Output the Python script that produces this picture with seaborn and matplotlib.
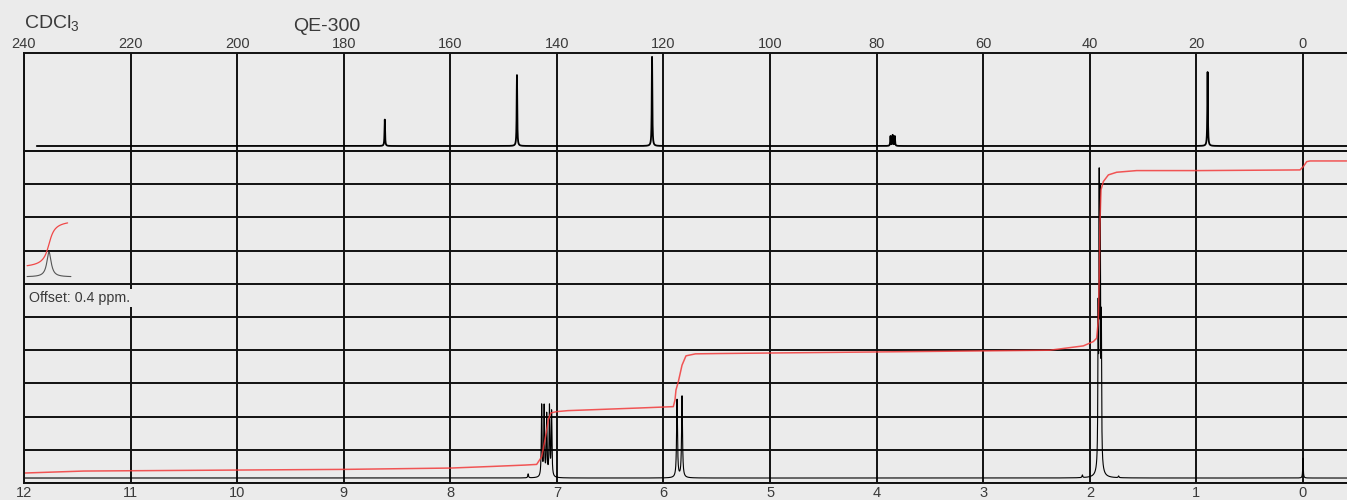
import numpy as np
import pandas as pd
import seaborn as sns
import matplotlib.pyplot as plt

W, H = 1347, 500
BG = '#ebebeb'
INK = '#3a3a3a'

# 1H peaks: position (ppm), height (grid units), half width (ppm)
h1_ppm = [7.27, 7.143, 7.12, 7.096, 7.07, 7.05, 5.873, 5.826,
          2.07, 1.922, 1.912, 1.902, 1.892, 1.905, 1.73, 0.0]
h1_height = [0.12, 2.15, 2.1, 1.85, 2.1, 1.95, 2.35, 2.45,
             0.08, 4.3, 7.9, 7.3, 4.0, 0.45, 0.05, 0.6]
h1_width = [0.004, 0.004, 0.004, 0.004, 0.004, 0.004, 0.005, 0.005,
            0.004, 0.003, 0.003, 0.003, 0.003, 0.02, 0.004, 0.003]
h1_base = 0.15

# 1H integral curve (ppm, grid units)
int_ppm = [12.0, 11.44, 10.0, 9.0, 8.0, 7.6, 7.3, 7.19, 7.143, 7.112, 7.096,
           7.081, 7.058, 7.002, 6.896, 6.22, 5.908, 5.892, 5.883, 5.861,
           5.826, 5.789, 5.70, 5.47, 2.374, 2.061, 1.967, 1.936, 1.920,
           1.911, 1.905, 1.895, 1.873, 1.826, 1.748, 1.560, 0.966, 0.028,
           -0.003, -0.035, -0.066, -0.41]
int_val = [0.30, 0.36, 0.39, 0.41, 0.45, 0.50, 0.54, 0.56, 0.79, 1.30, 1.60,
           1.90, 2.11, 2.15, 2.18, 2.26, 2.30, 2.50, 2.80, 3.05,
           3.55, 3.83, 3.89, 3.90, 4.00, 4.13, 4.26, 4.36, 4.91,
           6.32, 7.82, 8.83, 9.08, 9.28, 9.36, 9.41, 9.41, 9.43,
           9.53, 9.68, 9.70, 9.70]

# 13C peaks: position (ppm), height (fraction of top panel)
c13_ppm = [172.3, 147.5, 122.15, 77.4, 77.0, 76.6, 17.9]
c13_height = [0.27, 0.725, 0.91, 0.10, 0.11, 0.10, 0.755]
c13_base = 0.051

h1_ticks = list(range(12, -1, -1))
c13_ticks = list(range(240, -1, -20))


def spectrum(x, pos, hgt, wid, base):
    y = np.full_like(x, base)
    for p, h, w in zip(pos, hgt, wid):
        y += h * w ** 2 / ((x - p) ** 2 + w ** 2)
    return y


x_h = np.linspace(12.0, -0.413, 30000)
df_h = pd.DataFrame({'ppm': x_h, 'y': spectrum(x_h, h1_ppm, h1_height, h1_width, h1_base)})
df_int = pd.DataFrame({'ppm': int_ppm, 'y': int_val})
x_c = np.linspace(237.6, -8.26, 30000)
df_c = pd.DataFrame({'ppm': x_c,
                     'y': spectrum(x_c, c13_ppm, c13_height, [0.06] * len(c13_ppm), c13_base)})

sns.set_theme(style='white')
plt.rcParams['font.family'] = ['Liberation Sans', 'DejaVu Sans']
plt.rcParams['mathtext.fontset'] = 'custom'
plt.rcParams['mathtext.rm'] = 'Liberation Sans'

fig = plt.figure(figsize=(W / 100, H / 100), dpi=100, facecolor=BG)
ax_c = fig.add_axes([24 / W, 349 / H, 1323 / W, 98 / H], facecolor=BG)
ax_h = fig.add_axes([24 / W, 17 / H, 1323 / W, 332 / H], facecolor=BG)

# 13C panel
sns.lineplot(data=df_c, x='ppm', y='y', ax=ax_c, color='black', lw=1.3,
             sort=False, estimator=None)
ax_c.set_xlim(240, -8.26)
ax_c.set_ylim(0, 1)
ax_c.xaxis.tick_top()
ax_c.set_xticks(c13_ticks)
ax_c.set_xticklabels([str(t) for t in c13_ticks])
ax_c.set_yticks([])
ax_c.grid(True, axis='x', color='#111111', lw=1.4)

# 1H panel
sns.lineplot(data=df_h, x='ppm', y='y', ax=ax_h, color='black', lw=0.8,
             sort=False, estimator=None)
sns.lineplot(data=df_int, x='ppm', y='y', ax=ax_h, color='#f23a3a', lw=1.1,
             alpha=0.85, sort=False, estimator=None)
ax_h.set_xlim(12, -0.413)
ax_h.set_ylim(0, 10)
ax_h.set_xticks(h1_ticks)
ax_h.set_xticklabels([str(t) for t in h1_ticks])
ax_h.set_yticks(range(0, 11))
ax_h.tick_params(axis='y', labelleft=False, length=0)
ax_h.grid(True, color='#111111', lw=1.4)

for ax in (ax_c, ax_h):
    ax.set_xlabel('')
    ax.set_ylabel('')
    ax.set_axisbelow(True)
    for s in ('left', 'top', 'bottom'):
        ax.spines[s].set_color('#111111')
        ax.spines[s].set_linewidth(1.4)
    ax.spines['right'].set_visible(False)
    ax.tick_params(axis='x', length=0, labelsize=10.5, labelcolor=INK)
ax_c.tick_params(axis='x', pad=1.5)
ax_h.tick_params(axis='x', pad=2.5)

# offset legend icon
ax_i = fig.add_axes([26 / W, 220 / H, 46 / W, 62 / H])
ax_i.axis('off')
xi = np.linspace(-1, 1, 200)
ax_i.plot(xi, 0.05 + 0.4 / (1 + (xi / 0.12) ** 2), color='#555555', lw=0.8)
ax_i.plot(xi[:185], 0.58 + 0.37 * np.arctan(xi[:185] / 0.2) / (np.pi / 2) * 1.08,
          color='#f04848', lw=0.9)
ax_i.set_xlim(-1.05, 1.05)
ax_i.set_ylim(0, 1)

fig.text(29 / W, 1 - 298 / H, 'Offset: 0.4 ppm.', fontsize=10.3, color=INK,
         va='center', ha='left',
         bbox=dict(boxstyle='square,pad=0.15', fc=BG, ec='none'), zorder=5)

fig.text(24 / W, 1 - 29 / H, r'CDCl$_\mathregular{3}$', fontsize=14, color=INK,
         va='baseline', ha='left')
fig.text(293 / W, 1 - 31 / H, 'QE-300', fontsize=14, color=INK,
         va='baseline', ha='left')

fig.savefig('out.png', dpi=100, facecolor=BG)
